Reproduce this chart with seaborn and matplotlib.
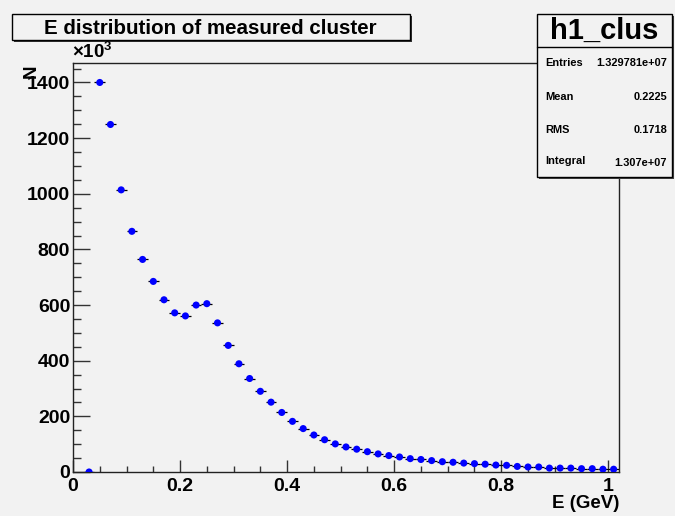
import numpy as np
import pandas as pd
import matplotlib
matplotlib.use("Agg")
import matplotlib.pyplot as plt
from matplotlib.patches import Rectangle
import seaborn as sns

# ---- data (N in units of 10^3) ----
energy = [0.03, 0.05, 0.07, 0.09, 0.11, 0.13, 0.15, 0.17, 0.19, 0.21,
          0.23, 0.25, 0.27, 0.29, 0.31, 0.33, 0.35, 0.37, 0.39, 0.41,
          0.43, 0.45, 0.47, 0.49, 0.51, 0.53, 0.55, 0.57, 0.59, 0.61,
          0.63, 0.65, 0.67, 0.69, 0.71, 0.73, 0.75, 0.77, 0.79, 0.81,
          0.83, 0.85, 0.87, 0.89, 0.91, 0.93, 0.95, 0.97, 0.99, 1.01]
counts = [0, 1400, 1249, 1014, 865, 764, 685, 619, 572, 561,
          600, 605, 536, 455, 389, 336, 290, 251, 214, 182,
          156, 133, 116, 101, 90, 82, 73, 65, 59, 54,
          48, 45, 41, 37, 35, 32, 30, 28, 25, 24,
          20, 18, 18, 14, 14, 14, 12, 12, 10, 10]
bin_half_width = 0.01
xticks = [0, 0.2, 0.4, 0.6, 0.8, 1]
xtick_labels = ["0", "0.2", "0.4", "0.6", "0.8", "1"]
yticks = [0, 200, 400, 600, 800, 1000, 1200, 1400]
title = "E distribution of measured cluster"
stats_name = "h1_clus"
stats_rows = [("Entries", "1.329781e+07"), ("Mean", "0.2225"),
              ("RMS", "0.1718"), ("Integral", "1.307e+07")]

df = pd.DataFrame({"E": energy, "N": counts})

sns.set_theme(style="white")
plt.rcParams["font.family"] = ["Liberation Sans", "DejaVu Sans"]
plt.rcParams["font.weight"] = "bold"
plt.rcParams["text.color"] = "black"
plt.rcParams["mathtext.fontset"] = "custom"
plt.rcParams["mathtext.rm"] = "Liberation Sans:bold"
plt.rcParams["mathtext.bf"] = "Liberation Sans:bold"

W, H = 675, 516
bg = "#f2f2f2"
fig = plt.figure(figsize=(W / 100, H / 100), dpi=100, facecolor=bg)

def fx(px):
    return px / W

def fy(py):
    return 1 - py / H

ax = fig.add_axes([fx(73), fy(472), fx(619) - fx(73), fy(63) - fy(472)])
ax.set_facecolor(bg)

ax.errorbar(df["E"], df["N"], xerr=bin_half_width, fmt="none",
            ecolor="black", elinewidth=0.9, capsize=0, zorder=2)
sns.scatterplot(data=df, x="E", y="N", ax=ax, color="#0000ff",
                s=26, edgecolor="none", linewidth=0, zorder=3, legend=False)

ax.set_xlim(0, 1.02)
ax.set_ylim(0, 1470)
ax.set_xticks(xticks)
ax.set_xticklabels(xtick_labels)
ax.set_yticks(yticks)
ax.set_yticklabels([str(v) for v in yticks])
ax.set_xticks(np.arange(0, 1.02, 0.05), minor=True)
ax.set_yticks(np.arange(0, 1470, 50), minor=True)
ax.set_xlabel("")
ax.set_ylabel("")

ax.tick_params(axis="both", which="both", direction="in", colors="#333333",
               labelcolor="black", labelsize=14, bottom=True, left=True,
               top=False, right=False)
ax.tick_params(axis="x", which="major", length=8.6, width=1, pad=4)
ax.tick_params(axis="x", which="minor", length=4.3, width=1)
ax.tick_params(axis="y", which="major", length=12, width=1, pad=2)
ax.tick_params(axis="y", which="minor", length=6, width=1)
for lab in ax.get_xticklabels() + ax.get_yticklabels():
    lab.set_fontweight("bold")
for s in ax.spines.values():
    s.set_color("#222222")
    s.set_linewidth(1)
    s.set_visible(True)

# axis titles
fig.text(fx(619), fy(504), "E (GeV)", ha="right", va="center",
         fontsize=13.5, fontweight="bold")
fig.text(fx(31), fy(64), "N", ha="center", va="top", rotation=90,
         fontsize=13.5, fontweight="bold")
fig.text(fx(72), fy(62), r"$\times$10$^{3}$", ha="left", va="bottom",
         fontsize=13.5, fontweight="bold")

# title box with shadow
fig.patches.append(Rectangle((fx(14), fy(42)), fx(398), fy(14) - fy(40),
                             transform=fig.transFigure, facecolor="#333333",
                             edgecolor="none", zorder=1))
fig.patches.append(Rectangle((fx(12), fy(40)), fx(398), fy(14) - fy(40),
                             transform=fig.transFigure, facecolor=bg,
                             edgecolor="black", linewidth=1, zorder=2))
fig.text(fx(210), fy(28), title, ha="center", va="center",
         fontsize=14.8, fontweight="bold", zorder=3)

# stats box with shadow
fig.patches.append(Rectangle((fx(539), fy(179)), fx(135), fy(14) - fy(177),
                             transform=fig.transFigure, facecolor="#444444",
                             edgecolor="none", zorder=1))
fig.patches.append(Rectangle((fx(537), fy(177)), fx(135), fy(14) - fy(177),
                             transform=fig.transFigure, facecolor=bg,
                             edgecolor="black", linewidth=1, zorder=2))
fig.lines.append(plt.Line2D([fx(537), fx(672)], [fy(47), fy(47)],
                            transform=fig.transFigure, color="black",
                            linewidth=1, zorder=3))
fig.text(fx(604.5), fy(31), stats_name, ha="center", va="center",
         fontsize=21, fontweight="bold", zorder=3)
row_y = [63, 97, 130, 161]
for (k, v), yy in zip(stats_rows, row_y):
    fig.text(fx(545), fy(yy), k, ha="left", va="center",
             fontsize=7.9, fontweight="bold", zorder=3)
    fig.text(fx(667), fy(yy + (1.5 if k == "Integral" else 0)), v,
             ha="right", va="center", fontsize=7.9, fontweight="bold",
             zorder=3)

fig.savefig("out.png", dpi=100, facecolor=bg)
